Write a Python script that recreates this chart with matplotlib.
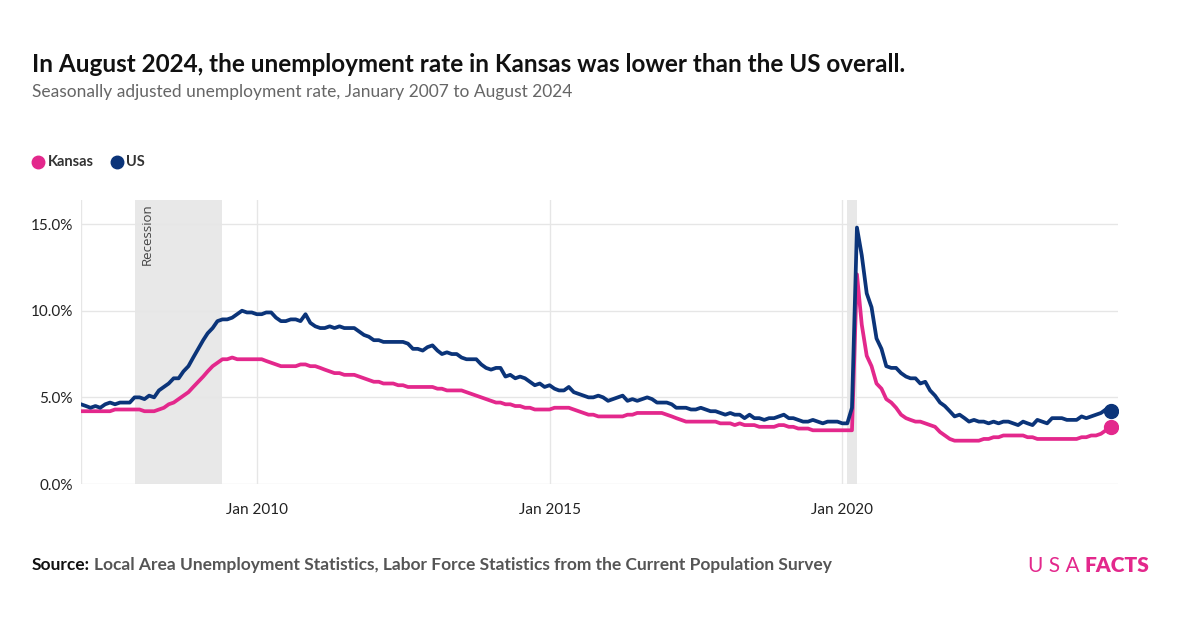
import matplotlib
matplotlib.use('Agg')
import matplotlib.pyplot as plt
from matplotlib.lines import Line2D
import numpy as np
import pandas as pd

# monthly, Jan 2007 .. Aug 2024
us = [4.6, 4.5, 4.4, 4.5, 4.4, 4.6, 4.7, 4.6, 4.7, 4.7, 4.7, 5.0,
      5.0, 4.9, 5.1, 5.0, 5.4, 5.6, 5.8, 6.1, 6.1, 6.5, 6.8, 7.3,
      7.8, 8.3, 8.7, 9.0, 9.4, 9.5, 9.5, 9.6, 9.8, 10.0, 9.9, 9.9,
      9.8, 9.8, 9.9, 9.9, 9.6, 9.4, 9.4, 9.5, 9.5, 9.4, 9.8, 9.3,
      9.1, 9.0, 9.0, 9.1, 9.0, 9.1, 9.0, 9.0, 9.0, 8.8, 8.6, 8.5,
      8.3, 8.3, 8.2, 8.2, 8.2, 8.2, 8.2, 8.1, 7.8, 7.8, 7.7, 7.9,
      8.0, 7.7, 7.5, 7.6, 7.5, 7.5, 7.3, 7.2, 7.2, 7.2, 6.9, 6.7,
      6.6, 6.7, 6.7, 6.2, 6.3, 6.1, 6.2, 6.1, 5.9, 5.7, 5.8, 5.6,
      5.7, 5.5, 5.4, 5.4, 5.6, 5.3, 5.2, 5.1, 5.0, 5.0, 5.1, 5.0,
      4.8, 4.9, 5.0, 5.1, 4.8, 4.9, 4.8, 4.9, 5.0, 4.9, 4.7, 4.7,
      4.7, 4.6, 4.4, 4.4, 4.4, 4.3, 4.3, 4.4, 4.3, 4.2, 4.2, 4.1,
      4.0, 4.1, 4.0, 4.0, 3.8, 4.0, 3.8, 3.8, 3.7, 3.8, 3.8, 3.9,
      4.0, 3.8, 3.8, 3.7, 3.6, 3.6, 3.7, 3.6, 3.5, 3.6, 3.6, 3.6,
      3.5, 3.5, 4.4, 14.8, 13.2, 11.0, 10.2, 8.4, 7.8, 6.8, 6.7, 6.7,
      6.4, 6.2, 6.1, 6.1, 5.8, 5.9, 5.4, 5.1, 4.7, 4.5, 4.2, 3.9,
      4.0, 3.8, 3.6, 3.7, 3.6, 3.6, 3.5, 3.6, 3.5, 3.6, 3.6, 3.5,
      3.4, 3.6, 3.5, 3.4, 3.7, 3.6, 3.5, 3.8, 3.8, 3.8, 3.7, 3.7,
      3.7, 3.9, 3.8, 3.9, 4.0, 4.1, 4.3, 4.2]

kansas = [4.2, 4.2, 4.2, 4.2, 4.2, 4.2, 4.2, 4.3, 4.3, 4.3, 4.3, 4.3,
          4.3, 4.2, 4.2, 4.2, 4.3, 4.4, 4.6, 4.7, 4.9, 5.1, 5.3, 5.6,
          5.9, 6.2, 6.5, 6.8, 7.0, 7.2, 7.2, 7.3, 7.2, 7.2, 7.2, 7.2,
          7.2, 7.2, 7.1, 7.0, 6.9, 6.8, 6.8, 6.8, 6.8, 6.9, 6.9, 6.8,
          6.8, 6.7, 6.6, 6.5, 6.4, 6.4, 6.3, 6.3, 6.3, 6.2, 6.1, 6.0,
          5.9, 5.9, 5.8, 5.8, 5.8, 5.7, 5.7, 5.6, 5.6, 5.6, 5.6, 5.6,
          5.6, 5.5, 5.5, 5.4, 5.4, 5.4, 5.4, 5.3, 5.2, 5.1, 5.0, 4.9,
          4.8, 4.7, 4.7, 4.6, 4.6, 4.5, 4.5, 4.4, 4.4, 4.3, 4.3, 4.3,
          4.3, 4.4, 4.4, 4.4, 4.4, 4.3, 4.2, 4.1, 4.0, 4.0, 3.9, 3.9,
          3.9, 3.9, 3.9, 3.9, 4.0, 4.0, 4.1, 4.1, 4.1, 4.1, 4.1, 4.1,
          4.0, 3.9, 3.8, 3.7, 3.6, 3.6, 3.6, 3.6, 3.6, 3.6, 3.6, 3.5,
          3.5, 3.5, 3.4, 3.5, 3.4, 3.4, 3.4, 3.3, 3.3, 3.3, 3.3, 3.4,
          3.4, 3.3, 3.3, 3.2, 3.2, 3.2, 3.1, 3.1, 3.1, 3.1, 3.1, 3.1,
          3.1, 3.1, 3.1, 12.1, 9.2, 7.4, 6.8, 5.8, 5.5, 4.9, 4.7, 4.4,
          4.0, 3.8, 3.7, 3.6, 3.6, 3.5, 3.4, 3.3, 3.0, 2.8, 2.6, 2.5,
          2.5, 2.5, 2.5, 2.5, 2.5, 2.6, 2.6, 2.7, 2.7, 2.8, 2.8, 2.8,
          2.8, 2.8, 2.7, 2.7, 2.6, 2.6, 2.6, 2.6, 2.6, 2.6, 2.6, 2.6,
          2.6, 2.7, 2.7, 2.8, 2.8, 2.9, 3.1, 3.3]

months = pd.date_range('2007-01-01', periods=len(us), freq='MS')
recessions = [('2007-12-01', '2009-06-01'), ('2020-02-01', '2020-04-01')]
xticks = ['2010-01-01', '2015-01-01', '2020-01-01']
xticklabels = ['Jan 2010', 'Jan 2015', 'Jan 2020']
yticks = [0, 5, 10, 15]

pink = '#e3288c'
navy = '#0b3479'
grid = '#e6e6e6'

plt.rcParams['font.family'] = ['Lato', 'DejaVu Sans']

fig = plt.figure(figsize=(12, 6.28), dpi=100)
ax = fig.add_axes([81/1200, 1 - 484/628, (1118 - 81)/1200, (484 - 200)/628])

for a, b in recessions:
    ax.axvspan(pd.Timestamp(a), pd.Timestamp(b), color='#e8e8e8', lw=0, zorder=0)
ax.text(pd.Timestamp('2008-02-20'), 16.2, 'Recession', rotation=90, va='top', ha='center',
        fontsize=9.5, color='#444444', family=['Open Sans', 'DejaVu Sans'])

ax.plot(months, kansas, color=pink, lw=2.7, solid_joinstyle='round', zorder=3)
ax.plot(months, us, color=navy, lw=2.7, solid_joinstyle='round', zorder=4)
ax.plot(months[-1], kansas[-1], 'o', color=pink, ms=10, zorder=5)
ax.plot(months[-1], us[-1], 'o', color=navy, ms=10, zorder=5)

ax.set_xlim(pd.Timestamp('2007-01-01'), pd.Timestamp('2024-09-15'))
ax.set_ylim(0, 16.39)
ax.set_yticks(yticks)
ax.set_yticklabels(['%.1f%%' % v for v in yticks])
ax.set_xticks([pd.Timestamp(t) for t in xticks])
ax.set_xticklabels(xticklabels)
ax.grid(True, color=grid, lw=1)
ax.set_axisbelow(True)
for s in ax.spines.values():
    s.set_visible(False)
ax.axvline(pd.Timestamp('2007-01-01'), color=grid, lw=1, zorder=0)
ax.tick_params(length=0, labelsize=11, labelcolor='#222222')
ax.tick_params(axis='y', pad=6)
ax.tick_params(axis='x', pad=14)

fig.text(32/1200, 1 - 64/628, 'In August 2024, the unemployment rate in Kansas was lower than the US overall.',
         fontsize=17.5, fontweight='bold', color='#111111', va='center')
fig.text(32/1200, 1 - 92/628, 'Seasonally adjusted unemployment rate, January 2007 to August 2024',
         fontsize=12.5, color='#666666', va='center')

# legend
for lx, tx, col, lab in [(38, 48, pink, 'Kansas'), (117, 126, navy, 'US')]:
    fig.add_artist(Line2D([lx/1200], [1 - 162/628], marker='o', ms=9, color=col,
                          transform=fig.transFigure, lw=0))
    fig.text(tx/1200, 1 - 162/628, lab, fontsize=10.5, fontweight='bold', color='#333333', va='center')

fig.text(32/1200, 1 - 565/628, 'Source:', fontsize=12.5, fontweight='bold', color='#111111', va='center')
fig.text(94/1200, 1 - 565/628, 'Local Area Unemployment Statistics, Labor Force Statistics from the Current Population Survey',
         fontsize=12.5, fontweight='bold', color='#555555', va='center')

fig.text(1085/1200, 1 - 566/628, 'FACTS', fontsize=15, fontweight='heavy', color=pink, va='center', ha='left')
fig.text(1080/1200, 1 - 566/628, 'U S A', fontsize=15, fontweight='normal', color=pink, va='center', ha='right')

fig.savefig('out.png', dpi=100, facecolor='white')
